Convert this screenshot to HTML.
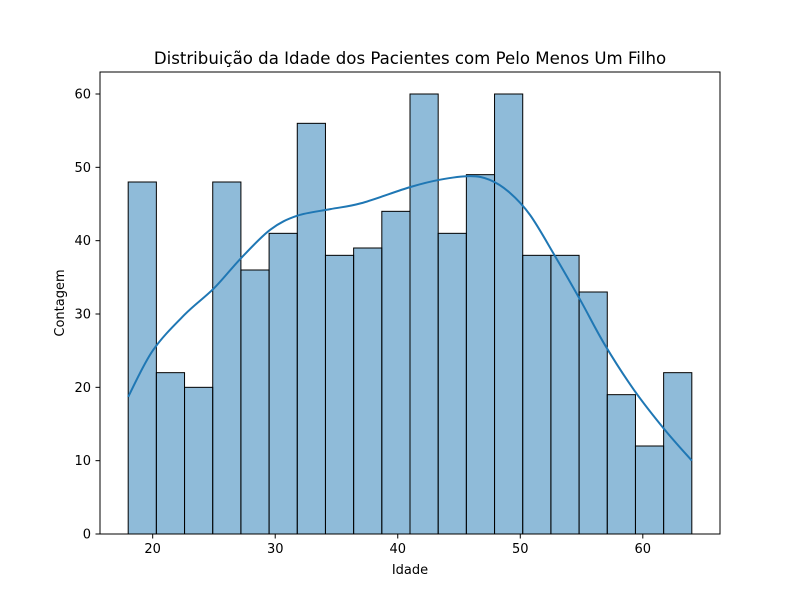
<!DOCTYPE html>
<html><head><meta charset="utf-8"><style>body{margin:0;background:#fff}svg{display:block;font-family:"DejaVu Sans","Liberation Sans",sans-serif}</style></head>
<body>
<svg id="chart" width="800" height="600">
<rect width="800" height="600" fill="#fff"/>
<text x="410" y="64" text-anchor="middle" font-size="16.6">Distribuição da Idade dos Pacientes com Pelo Menos Um Filho</text>
<g id="bars"></g><g id="ticks"></g>
<path id="kde" fill="none" stroke="#1f77b4" stroke-width="2"/>
<rect x="100" y="72" width="620" height="462" fill="none" stroke="#000" stroke-width="1"/>
<text x="410" y="574" text-anchor="middle" font-size="13">Idade</text>
<text transform="translate(64,303) rotate(-90)" text-anchor="middle" font-size="13">Contagem</text>
</svg>
<script>
const counts=[48,22,20,48,36,41,56,38,39,44,60,41,49,60,38,38,33,19,12,22];
const binStart=18, binEnd=64;
const xTicks=[20,30,40,50,60];
const yTicks=[0,10,20,30,40,50,60];
const kdeX=[18,20,22.6,25,27.2,29.6,31.8,34.5,37,41,43.4,45.9,47.5,49.1,50.8,52.8,54.9,56.9,59.3,61.8,64];
const kdeY=[18.7,25,29.9,33.5,37.6,41.5,43.4,44.3,45.1,47.3,48.3,48.8,48.3,46.6,43.5,38,31.9,25.8,19.6,14.2,10];
const X=v=>100+(v-15.7)/(66.3-15.7)*620;
const Y=v=>534-v/63*462;
const ns='http://www.w3.org/2000/svg';
const bars=document.getElementById('bars'),ticks=document.getElementById('ticks');
const w=(binEnd-binStart)/counts.length;
counts.forEach((c,i)=>{const r=document.createElementNS(ns,'rect');
const x0=X(binStart+i*w),x1=X(binStart+(i+1)*w);
r.setAttribute('x',x0);r.setAttribute('y',Y(c));r.setAttribute('width',x1-x0);r.setAttribute('height',Y(0)-Y(c));
r.setAttribute('fill','rgba(31,119,180,0.5)');r.setAttribute('stroke','#000');r.setAttribute('stroke-width','1');


bars.appendChild(r);});
function add(tag,attrs,txt){const e=document.createElementNS(ns,tag);for(const k in attrs)e.setAttribute(k,attrs[k]);if(txt!=null)e.textContent=txt;ticks.appendChild(e);return e;}
xTicks.forEach(t=>{const l=add('line',{x1:X(t),x2:X(t),y1:534,y2:538.5,stroke:'#000'});


const s=add('text',{x:X(t),y:553,'text-anchor':'middle','font-size':13},t);

});
yTicks.forEach(t=>{const l=add('line',{x1:95.5,x2:100,y1:Y(t),y2:Y(t),stroke:'#000'});


const s=add('text',{x:91,y:Y(t)+4.5,'text-anchor':'end','font-size':13},t);

});
let pts=kdeX.map((x,i)=>[X(x),Y(kdeY[i])]);
let d='M'+pts[0].join(',');
for(let i=0;i<pts.length-1;i++){const p0=pts[i-1]||pts[i],p1=pts[i],p2=pts[i+1],p3=pts[i+2]||p2;
d+=' C'+(p1[0]+(p2[0]-p0[0])/6)+','+(p1[1]+(p2[1]-p0[1])/6)+' '+(p2[0]-(p3[0]-p1[0])/6)+','+(p2[1]-(p3[1]-p1[1])/6)+' '+p2[0]+','+p2[1];}
document.getElementById('kde').setAttribute('d',d);
</script>
</body></html>
